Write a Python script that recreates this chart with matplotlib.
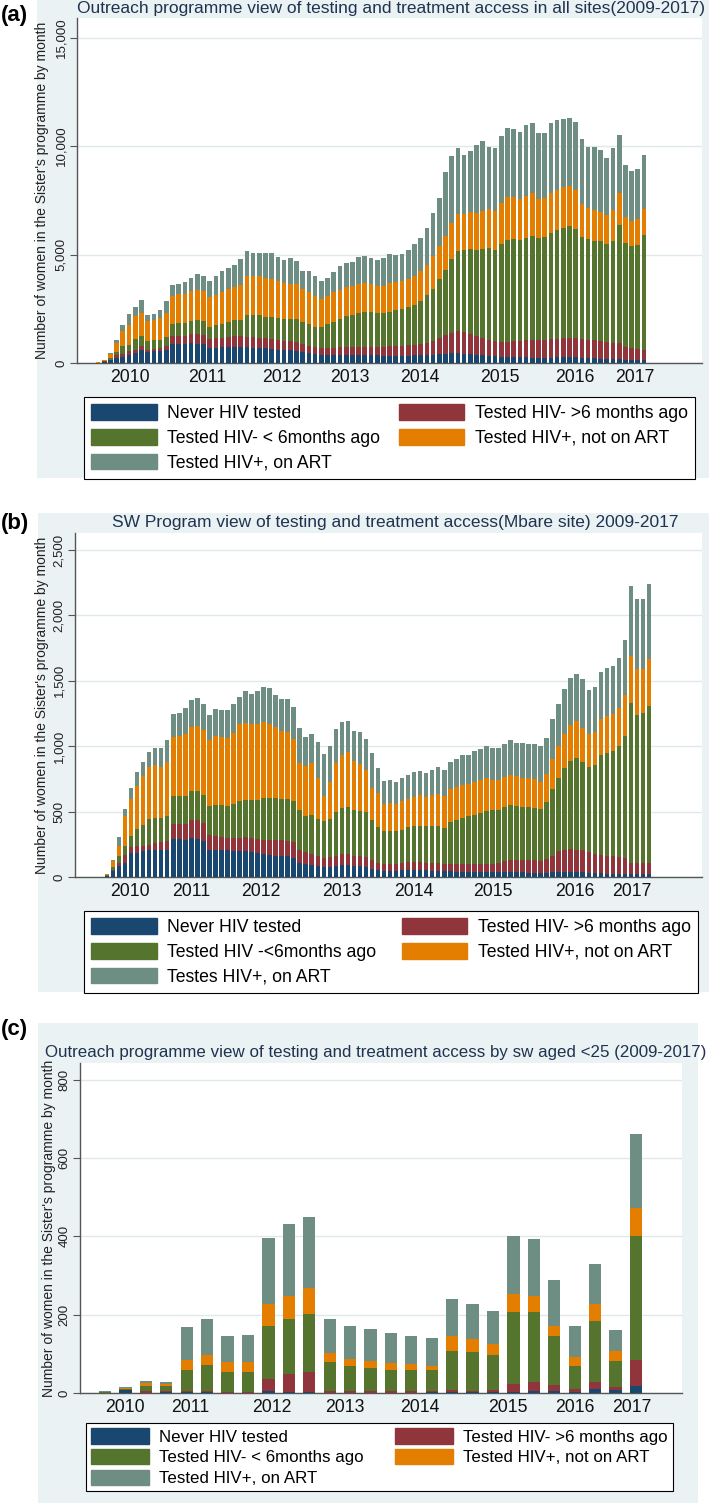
import numpy as np
import matplotlib
matplotlib.use("Agg")
import matplotlib.pyplot as plt
from matplotlib.patches import Rectangle, Patch

plt.rcParams['font.family'] = ['Liberation Sans', 'DejaVu Sans']

# ---------------- data ----------------
names_a = ["Never HIV tested", "Tested HIV- >6 months ago", "Tested HIV- < 6months ago",
           "Tested HIV+, not on ART", "Tested HIV+, on ART"]
names_b = ["Never HIV tested", "Tested HIV- >6 months ago", "Tested HIV -<6months ago",
           "Tested HIV+, not on ART", "Testes HIV+, on ART"]
names_c = names_a
years = ["2010", "2011", "2012", "2013", "2014", "2015", "2016", "2017"]

# (a) all sites, monthly
a_never = [10, 50, 120, 250, 280, 380, 460, 610, 490, 540, 540, 610,
           870, 880, 860, 900, 880, 860, 700, 700, 720, 740, 760, 740,
           720, 700, 700, 680, 660, 620, 600, 580, 560, 500, 440, 400,
           380, 360, 370, 380, 380, 380, 370, 360, 360, 350, 340, 340,
           340, 340, 340, 350, 360, 370, 380, 400, 420, 440, 460, 430,
           400, 380, 360, 330, 300, 280, 270, 270, 260, 260, 250, 250,
           250, 250, 260, 260, 270, 260, 240, 230, 220, 200, 190, 180,
           180, 160, 160, 160, 160]
a_gt6 = [5, 20, 40, 130, 140, 155, 155, 160, 125, 105, 150, 160,
         360, 370, 380, 420, 460, 450, 420, 440, 450, 470, 480, 500,
         500, 480, 470, 460, 450, 440, 430, 420, 410, 390, 360, 330,
         320, 320, 330, 350, 370, 380, 390, 400, 400, 410, 420, 430,
         440, 450, 470, 490, 520, 560, 650, 750, 850, 950, 1000, 1000,
         950, 850, 800, 750, 700, 700, 720, 740, 760, 780, 800, 820,
         820, 840, 860, 880, 900, 900, 880, 850, 820, 800, 780, 760,
         760, 580, 520, 480, 440]
a_lt6 = [5, 20, 60, 150, 350, 310, 485, 460, 385, 400, 385, 430,
         580, 590, 600, 620, 640, 620, 560, 600, 640, 680, 720, 760,
         1000, 1050, 1020, 1000, 1000, 1000, 1000, 1050, 1050, 1000, 1000, 950,
         940, 1100, 1200, 1300, 1400, 1450, 1550, 1600, 1580, 1550, 1550, 1600,
         1650, 1700, 1750, 1850, 2000, 2200, 2400, 2700, 3000, 3400, 3700, 3800,
         3900, 4000, 4100, 4200, 4200, 4500, 4700, 4700, 4650, 4700, 4800, 4700,
         4750, 4900, 5000, 5100, 5150, 5000, 4700, 4650, 4600, 4600, 4500, 4700,
         5400, 4800, 4700, 4800, 5300]
a_notart = [5, 40, 200, 400, 700, 900, 1050, 1070, 920, 925, 995, 1100,
            1300, 1320, 1350, 1380, 1400, 1400, 1350, 1400, 1450, 1500, 1550, 1600,
            1800, 1800, 1800, 1800, 1750, 1700, 1650, 1600, 1600, 1500, 1450, 1400,
            1300, 1300, 1350, 1350, 1350, 1350, 1350, 1350, 1300, 1250, 1250, 1300,
            1300, 1300, 1300, 1300, 1350, 1400, 1500, 1550, 1600, 1650, 1700, 1650,
            1700, 1700, 1750, 1800, 1800, 1900, 1950, 1950, 1900, 1950, 2000, 1800,
            1800, 1850, 1850, 1850, 1850, 1800, 1500, 1400, 1400, 1350, 1350, 1400,
            1500, 1200, 1150, 1200, 1200]
a_art = [5, 20, 40, 140, 260, 505, 450, 600, 300, 300, 380, 580,
         490, 490, 550, 590, 730, 690, 730, 850, 960, 980, 1020, 1190,
         1120, 1030, 1070, 1150, 1200, 1120, 1080, 1180, 1060, 830, 1010, 910,
         820, 830, 950, 1070, 1130, 1090, 1220, 1230, 1220, 1200, 1270, 1360,
         1260, 1240, 1330, 1500, 1520, 1680, 1970, 2220, 2950, 3100, 3030, 2710,
         2840, 3120, 3220, 2890, 2890, 3080, 3170, 3120, 3090, 3280, 3190, 3040,
         2990, 3240, 3230, 3160, 3110, 3160, 3020, 2840, 2930, 2870, 2640, 2850,
         2680, 2380, 2340, 2280, 2490]

# (b) Mbare site, monthly
b_never = [5, 43, 82, 107, 184, 184, 196, 204, 209, 209,
           204, 293, 290, 285, 298, 293, 273, 209, 204, 204,
           204, 196, 196, 196, 191, 184, 179, 171, 163, 163,
           158, 145, 107, 100, 94, 82, 77, 74, 82, 94,
           94, 87, 82, 77, 61, 51, 45, 45, 45, 50,
           50, 50, 50, 50, 48, 48, 48, 48, 41, 41,
           36, 36, 36, 36, 36, 36, 36, 36, 36, 36,
           31, 31, 31, 31, 36, 38, 38, 38, 38, 36,
           31, 31, 31, 26, 26, 26, 26, 26, 26, 26, 26]
b_gt6 = [3, 12, 25, 63, 46, 51, 44, 43, 51, 56,
         69, 115, 118, 123, 136, 141, 140, 115, 107, 99,
         94, 102, 102, 110, 107, 106, 107, 110, 118, 118,
         115, 120, 97, 89, 85, 76, 68, 79, 81, 85,
         85, 76, 76, 76, 72, 56, 55, 55, 57, 57,
         62, 62, 62, 57, 59, 59, 54, 51, 58, 58,
         63, 63, 63, 66, 66, 71, 84, 92, 97, 97,
         97, 97, 94, 107, 127, 158, 171, 176, 171, 168,
         160, 148, 140, 137, 137, 127, 119, 84, 81, 79, 79]
b_lt6 = [4, 25, 51, 65, 86, 132, 160, 193, 190, 185,
         197, 209, 214, 209, 221, 221, 217, 216, 237, 245,
         248, 263, 281, 286, 289, 302, 319, 324, 324, 316,
         324, 314, 311, 281, 298, 282, 281, 293, 332, 349,
         357, 352, 344, 342, 306, 273, 250, 250, 248, 253,
         273, 278, 281, 286, 281, 281, 273, 319, 335, 352,
         365, 378, 391, 401, 408, 408, 416, 426, 413, 403,
         408, 400, 395, 432, 507, 564, 621, 676, 701, 676,
         649, 681, 764, 787, 797, 847, 935, 1220, 1135, 1150, 1206]
b_notart = [8, 40, 82, 235, 281, 327, 370, 400, 405, 390,
            410, 453, 453, 480, 493, 503, 492, 506, 528, 522,
            519, 541, 587, 586, 579, 581, 579, 568, 543, 518,
            515, 477, 357, 377, 395, 318, 191, 279, 377, 408,
            418, 370, 365, 321, 242, 260, 210, 215, 205, 220,
            215, 225, 232, 217, 237, 247, 245, 252, 256, 254,
            246, 248, 250, 257, 235, 230, 229, 226, 224, 224,
            219, 222, 210, 220, 230, 240, 260, 270, 280, 260,
            250, 250, 275, 280, 290, 290, 310, 360, 352, 332, 357]
b_art = [5, 10, 65, 50, 83, 106, 110, 115, 130, 145,
         170, 180, 180, 193, 202, 207, 198, 194, 209, 210,
         215, 218, 209, 242, 234, 247, 271, 272, 247, 245,
         248, 244, 268, 223, 218, 272, 323, 280, 258, 249,
         241, 235, 238, 239, 264, 195, 175, 180, 175, 175,
         180, 185, 185, 185, 190, 205, 195, 210, 215, 230,
         220, 235, 240, 245, 245, 240, 255, 265, 255, 265,
         265, 270, 270, 275, 310, 325, 350, 360, 365, 370,
         340, 345, 355, 365, 360, 385, 420, 538, 534, 541, 575]

# (c) sex workers aged < 25
c_never = [0, 8, 0, 3, 2, 2, 1, 1, 4, 3, 2, 1, 1, 1, 1, 1, 2, 2, 2, 2, 3, 5, 5, 3, 10, 7, 17]
c_gt6 = [0, 0, 5, 1, 2, 2, 2, 1, 33, 45, 51, 5, 4, 4, 4, 4, 2, 6, 4, 6, 20, 22, 16, 8, 18, 8, 67]
c_lt6 = [2, 3, 14, 13, 54, 67, 50, 51, 135, 140, 150, 73, 63, 58, 55, 53, 55, 100, 98, 89,
         184, 181, 125, 57, 157, 68, 316]
c_notart = [0, 3, 7, 6, 27, 27, 26, 25, 56, 60, 64, 22, 19, 18, 17, 16, 11, 37, 35, 27,
            47, 40, 26, 25, 43, 25, 72]
c_art = [3, 2, 4, 5, 83, 91, 67, 71, 169, 184, 182, 88, 85, 82, 76, 72, 70, 95, 89, 85,
         147, 145, 117, 78, 102, 54, 190]

# ---------------- style ----------------
W, H = 709, 1503
fig = plt.figure(figsize=(W / 100, H / 100), dpi=100)
fig.patch.set_facecolor('white')

BG = '#eaf2f3'
GRID = '#dfe8eb'
AXC = '#555555'
TITLE_C = '#1f3350'
COLORS = ['#1a476f', '#90353b', '#55752f', '#e37e00', '#6e8e84']
FS = 12.7


def fx(p):
    return p / W


def fy(p):
    return 1 - p / H


def bg_rect(x0, y0, x1, y1):
    fig.add_artist(Rectangle((fx(x0), fy(y1)), (x1 - x0) / W, (y1 - y0) / H,
                             transform=fig.transFigure, facecolor=BG,
                             edgecolor='none', zorder=-10))


def draw_panel(letter, letter_xy, bg, title, title_xy, title_fs, ax_px, series, names,
               ymax, yticks, first_px, last_px, width, tick_px, legend_px, ylabel_x,
               leg_fs, leg_hl, leg_ls, leg_bp):
    x0, y0, x1, y1 = ax_px
    bg_rect(*bg)
    fig.text(fx(letter_xy[0]), fy(letter_xy[1]), letter, fontsize=16,
             fontweight='bold', ha='left', va='center')
    fig.text(fx(title_xy[0]), fy(title_xy[1]), title, fontsize=title_fs, color=TITLE_C,
             ha='center', va='center')
    ax = fig.add_axes([fx(x0), fy(y1), (x1 - x0) / W, (y1 - y0) / H])
    ax.set_facecolor('white')
    n = len(series[0])
    idx = np.arange(n)
    d = (last_px - first_px) / (n - 1)
    ax.set_xlim(-(first_px - x0) / d, (n - 1) + (x1 - last_px) / d)
    ax.set_ylim(0, ymax)
    bottom = np.zeros(n)
    for vals, c in zip(series, COLORS):
        v = np.asarray(vals, dtype=float)
        ax.bar(idx, v, width=width, bottom=bottom, color=c, edgecolor='none',
               linewidth=0, zorder=3)
        bottom = bottom + v
    ax.set_xticks([(p - first_px) / d for p in tick_px])
    ax.set_xticklabels(years, fontsize=FS, color='#111111')
    ax.tick_params(axis='x', length=0, pad=4)
    ax.set_yticks(yticks)
    ax.set_yticklabels([f"{v:,}" for v in yticks], fontsize=9.5, color='#222222',
                       rotation=90, va='center')
    ax.tick_params(axis='y', length=5, width=0.8, color=AXC, pad=2)
    ax.grid(axis='y', color=GRID, lw=1.0, zorder=0)
    ax.set_axisbelow(True)
    for s in ['top', 'right']:
        ax.spines[s].set_visible(False)
    for s in ['left', 'bottom']:
        ax.spines[s].set_color(AXC)
        ax.spines[s].set_linewidth(1.0)
    fig.text(fx(ylabel_x), fy((y0 + y1) / 2), "Number of women in the Sister's programme by month",
             rotation=90, fontsize=10, ha='center', va='center', color='#222222')
    handles = [Patch(facecolor=c, edgecolor=c) for c in COLORS]
    order = [0, 2, 4, 1, 3]
    lx0, ly0, lx1, ly1 = legend_px
    leg = fig.legend([handles[i] for i in order], [names[i] for i in order], ncol=2,
                     mode='expand', loc='upper left',
                     bbox_to_anchor=(fx(lx0), fy(ly1), (lx1 - lx0) / W, (ly1 - ly0) / H),
                     bbox_transform=fig.transFigure, frameon=True, fancybox=False,
                     edgecolor='black', framealpha=1, fontsize=leg_fs, borderpad=leg_bp,
                     labelspacing=leg_ls, handlelength=leg_hl, handleheight=1.0,
                     handletextpad=0.6, borderaxespad=0)
    leg.get_frame().set_linewidth(0.8)
    return ax


draw_panel("(a)", (1, 16), (37, 0, 709, 478),
           "Outreach programme view of testing and treatment access in all sites(2009-2017)",
           (391, 8), 12.5, (77, 18, 702, 363),
           [a_never, a_gt6, a_lt6, a_notart, a_art], names_a, 15900,
           [0, 5000, 10000, 15000], 98, 644, 0.75,
           [130, 207, 282, 350, 420, 500, 575, 635], (84, 397, 695, 477), 42,
           12.7, 3.7, 0.38, 0.42)

draw_panel("(b)", (1, 523), (38, 513, 709, 992),
           "SW Program view of testing and treatment access(Mbare site) 2009-2017",
           (395, 522), 12.5, (75, 533, 702, 877),
           [b_never, b_gt6, b_lt6, b_notart, b_art], names_b, 2630,
           [0, 500, 1000, 1500, 2000, 2500], 107, 649, 0.75,
           [130, 191, 261, 342, 414, 493, 575, 632], (84, 911, 698, 991), 42,
           12.7, 3.7, 0.38, 0.42)

draw_panel("(c)", (1, 1030), (38, 1023, 698, 1503),
           "Outreach programme view of testing and treatment access by sw aged <25 (2009-2017)",
           (376, 1052), 12.2, (80, 1063, 682, 1393),
           [c_never, c_gt6, c_lt6, c_notart, c_art], names_c, 843,
           [0, 200, 400, 600, 800], 105, 636, 0.6,
           [125, 190, 272, 345, 420, 508, 575, 632], (86, 1423, 673, 1495), 49,
           12.2, 3.4, 0.25, 0.32)

fig.savefig("out.png", dpi=100, facecolor='white')
